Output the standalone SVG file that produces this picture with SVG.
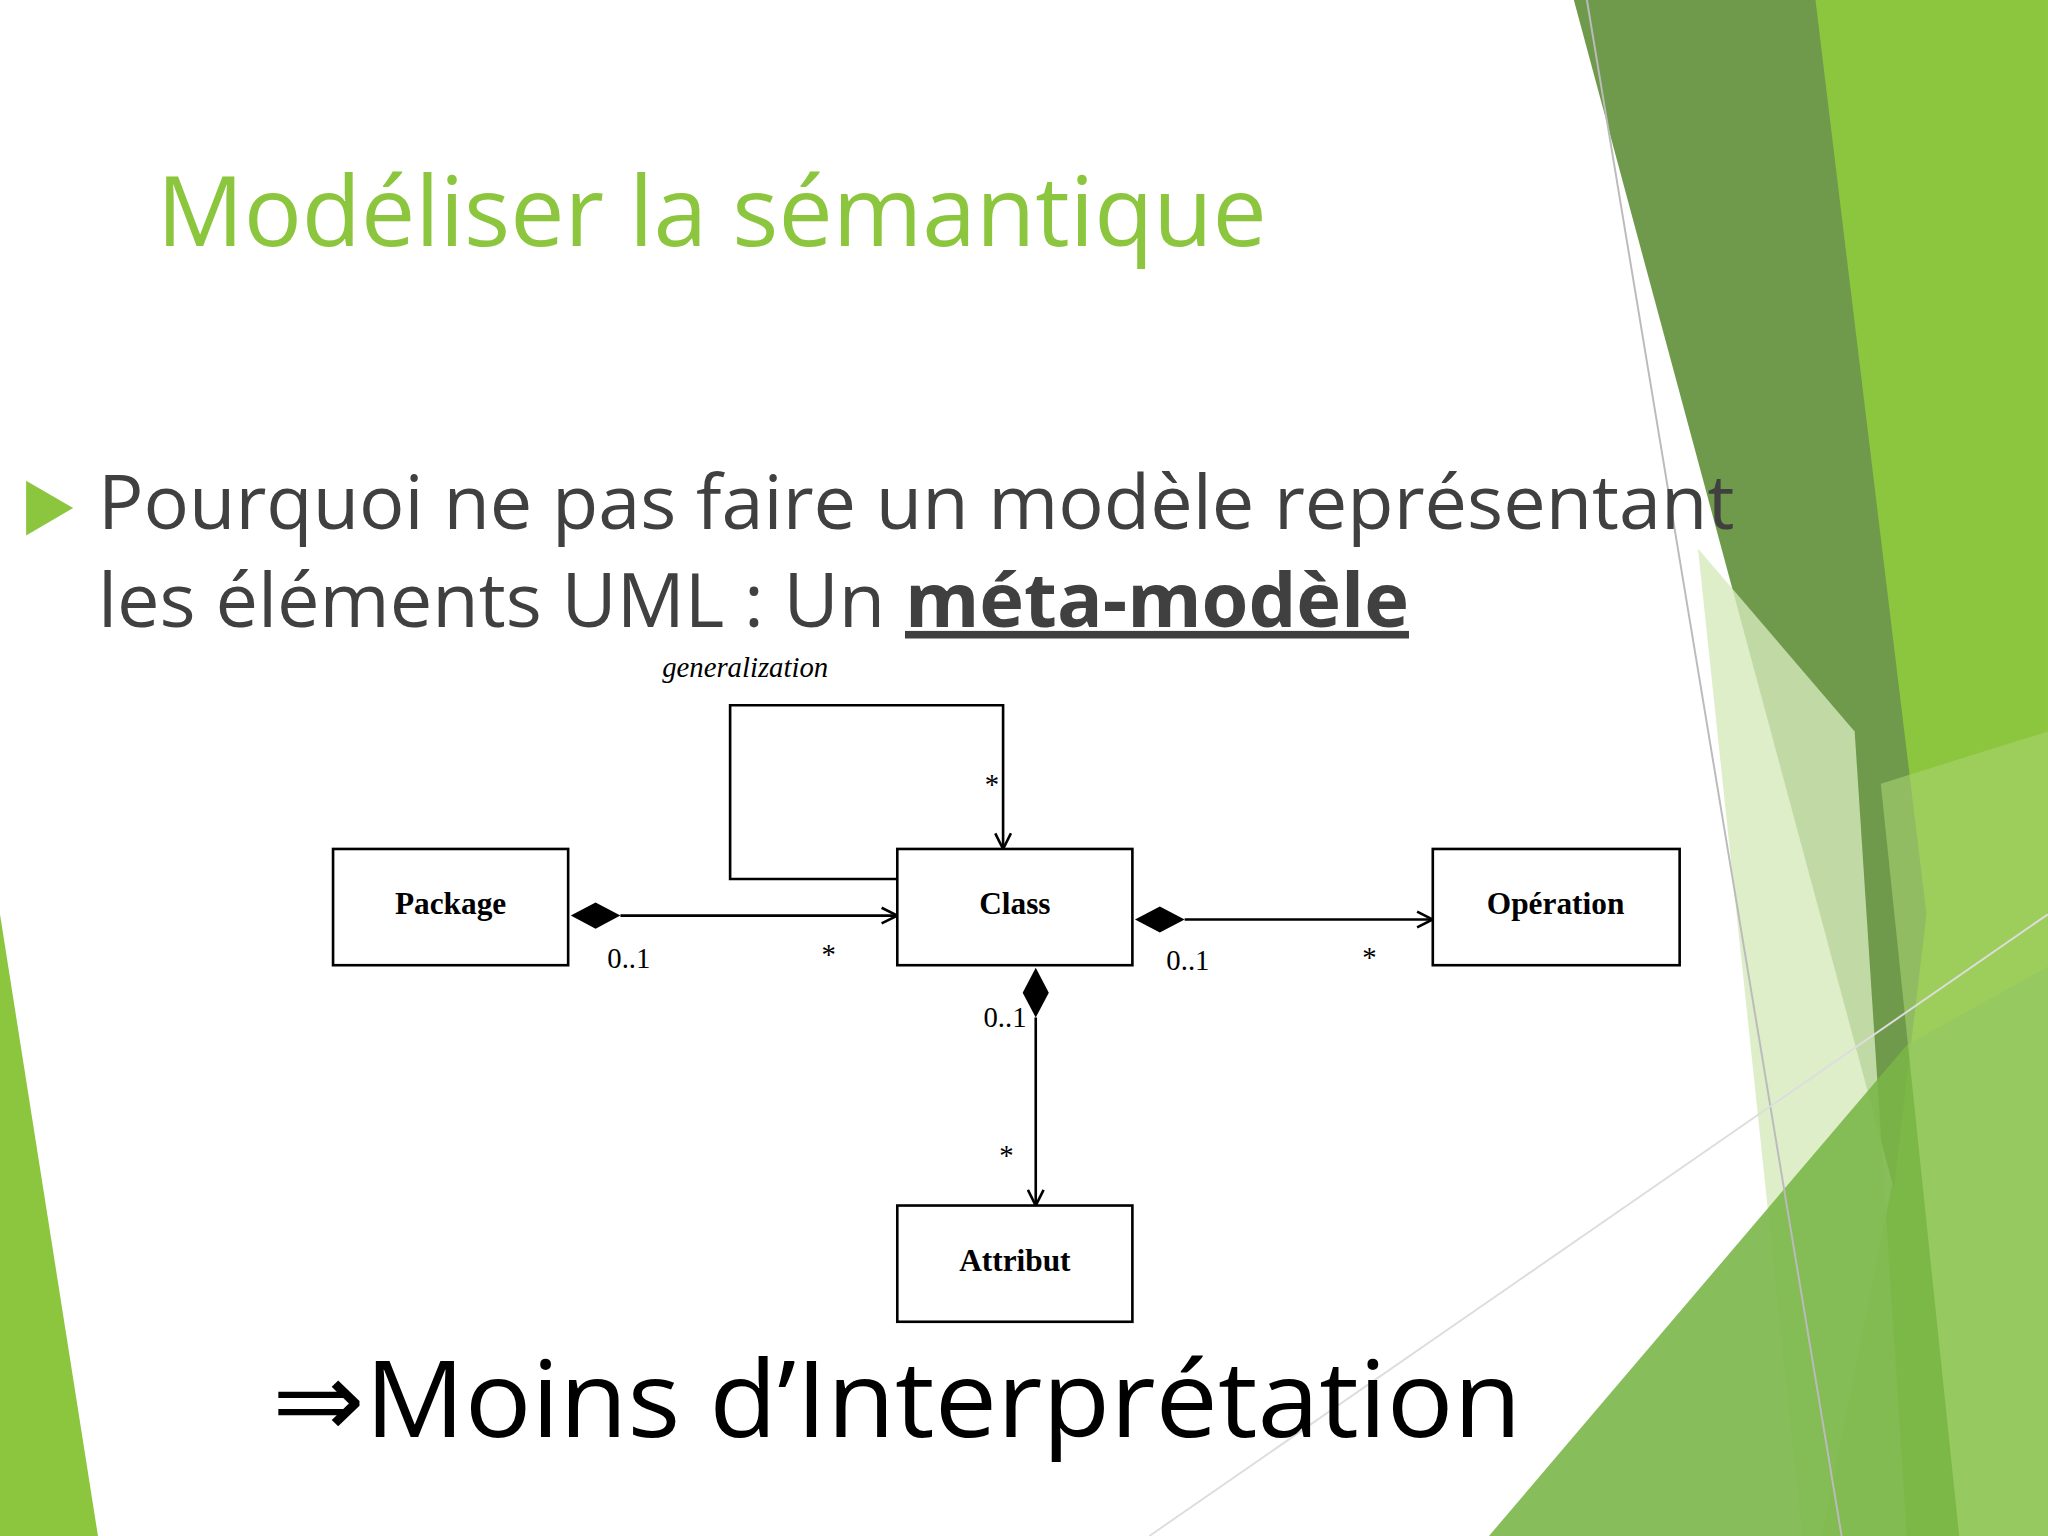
<svg xmlns="http://www.w3.org/2000/svg" width="2048" height="1536" viewBox="0 0 2048 1536">
<style>
.box{fill:#fff;stroke:#000;stroke-width:2}
.lbl{font-family:"Liberation Serif",serif;font-weight:bold;font-size:24px;text-anchor:middle}
.m{font-family:"Liberation Serif",serif;font-size:22px}
.ln{fill:none;stroke:#000;stroke-width:2}
</style>
<defs>
<marker id="ar" markerWidth="14" markerHeight="14" refX="13" refY="7" orient="auto" markerUnits="userSpaceOnUse"><path d="M1,1 L13,7 L1,13" fill="none" stroke="#000" stroke-width="2"/></marker>
</defs>
<rect width="2048" height="1536" fill="#fff"/>
<g transform="scale(1.3061)">
<g id="bg">
<polygon points="1385,0 1568,0 1568,1176 1395,1176 1450,900" fill="#8cc63f"/>
<polygon points="1205,0 1390,0 1475,700 1450,910" fill="#6f9a4c"/>
<polygon points="1300,420 1420,560 1460,1176 1380,1176" fill="#d6eabb" opacity="0.8"/>
<polygon points="1140,1176 1460,800 1568,740 1568,1176" fill="#7ab648" opacity="0.9"/>
<polygon points="1440,600 1568,560 1568,1176 1500,1176" fill="#a9d46f" opacity="0.6"/>
<polygon points="0,700 75,1176 0,1176" fill="#8cc63f"/>
<line x1="1215" y1="0" x2="1410" y2="1176" stroke="#bbb" stroke-width="1.5"/>
<line x1="880" y1="1176" x2="1568" y2="700" stroke="#ddd" stroke-width="1.5"/>
</g>
<text x="120" y="188" font-family="Open Sans, sans-serif" font-size="74" fill="#8cc63f" textLength="850" lengthAdjust="spacingAndGlyphs">Modéliser la sémantique</text>
<polygon points="20,368 56,389 20,410" fill="#8cc63f"/>
<text x="75" y="405" font-family="Open Sans, sans-serif" font-size="58" fill="#404040" textLength="1253" lengthAdjust="spacingAndGlyphs">Pourquoi ne pas faire un modèle représentant</text>
<text x="75" y="480" font-family="Open Sans, sans-serif" font-size="58" fill="#404040">les éléments UML : Un <tspan font-weight="bold" text-decoration="underline">méta-modèle</tspan></text>
<g id="connectors">
<path class="ln" d="M687,673 H559 V540 H768 V650" marker-end="url(#ar)"/>
<path class="ln" d="M475,701 H687" marker-end="url(#ar)"/>
<polygon points="437,701 456,691 475,701 456,711"/>
<path class="ln" d="M907,704 H1097" marker-end="url(#ar)"/>
<polygon points="869,704 888,694 907,704 888,714"/>
<path class="ln" d="M793,779 V923" marker-end="url(#ar)"/>
<polygon points="793,741 803,760 793,779 783,760"/>
</g>
<text x="507" y="518" class="m" font-style="italic" font-size="24">generalization</text>
<text x="754" y="608" class="m">*</text>
<text x="465" y="741" class="m">0..1</text>
<text x="629" y="738" class="m">*</text>
<text x="893" y="743" class="m">0..1</text>
<text x="1043" y="740" class="m">*</text>
<text x="753" y="786" class="m">0..1</text>
<text x="765" y="892" class="m">*</text>
<g id="package"><rect class="box" x="255" y="650" width="180" height="89"/><text class="lbl" x="345" y="700">Package</text></g>
<g id="class"><rect class="box" x="687" y="650" width="180" height="89"/><text class="lbl" x="777" y="700">Class</text></g>
<g id="operation"><rect class="box" x="1097" y="650" width="189" height="89"/><text class="lbl" x="1191" y="700">Opération</text></g>
<g id="attribut"><rect class="box" x="687" y="923" width="180" height="89"/><text class="lbl" x="777" y="973">Attribut</text></g>
<text x="208" y="1100" font-family="Open Sans, sans-serif" font-size="82" fill="#000" textLength="957" lengthAdjust="spacingAndGlyphs">⇒Moins d’Interprétation</text>
</g>
</svg>
